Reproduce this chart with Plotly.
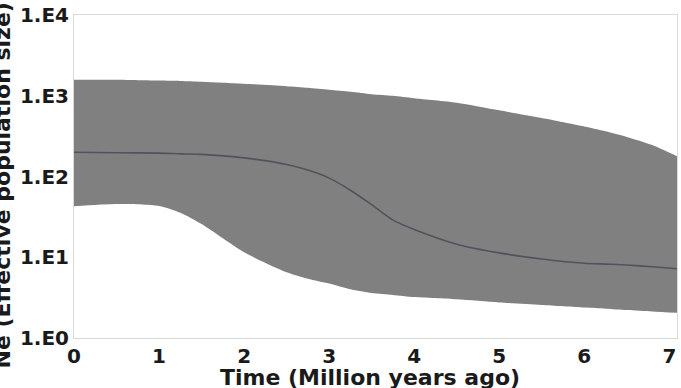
import plotly.graph_objects as go

# Time (million years ago)
time = [0, 0.5, 1.0, 1.25, 1.5, 2.0, 2.5, 2.75, 3.0, 3.25, 3.5, 3.75, 4.0, 4.5, 5.0, 5.5, 6.0, 6.25, 6.5, 6.8, 7.09]
# Upper 95% HPD of Ne
upper = [1585, 1585, 1549, 1531, 1496, 1413, 1318, 1259, 1189, 1122, 1047, 1000, 933, 822, 661, 531, 417, 363, 309, 245, 178]
# Median Ne
median = [200, 197, 195, 191, 188, 170, 141, 120, 95.5, 67.6, 44.7, 28.8, 22.1, 14.5, 11.3, 9.5, 8.4, 8.2, 8.0, 7.6, 7.2]
# Lower 95% HPD of Ne
lower = [42.7, 45.7, 43.2, 35.5, 25.7, 11.5, 6.5, 5.4, 4.7, 4.0, 3.6, 3.4, 3.2, 3.0, 2.75, 2.56, 2.38, 2.3, 2.21, 2.12, 2.04]

x_ticks = [0, 1, 2, 3, 4, 5, 6, 7]
y_tickvals = [1, 10, 100, 1000, 10000]
y_ticktext = ["1.E0", "1.E1", "1.E2", "1.E3", "1.E4"]

x_title = "Time (Million years ago)"
y_title = "Ne (Effective population size)"

FONT = "DejaVu Sans"
TXT = "#1a1a1a"
band_color = "#808080"
line_color = "#52525e"

fig = go.Figure()
fig.add_trace(go.Scatter(x=time, y=lower, mode="lines", line=dict(width=0, color=band_color, shape="spline", smoothing=0.7),
                         showlegend=False, hoverinfo="skip"))
fig.add_trace(go.Scatter(x=time, y=upper, mode="lines", line=dict(width=0, color=band_color, shape="spline", smoothing=0.7),
                         fill="tonexty", fillcolor=band_color, showlegend=False, hoverinfo="skip"))
fig.add_trace(go.Scatter(x=time, y=median, mode="lines", line=dict(width=1.6, color=line_color, shape="spline", smoothing=0.7),
                         showlegend=False))

W, H = 681, 388
ml, mr, mt, mb = 74, 3, 12, 50
pw, ph = W - ml - mr, H - mt - mb

fig.update_layout(
    width=W, height=H,
    margin=dict(l=ml, r=mr, t=mt, b=mb),
    paper_bgcolor="white", plot_bgcolor="white",
    font=dict(family=FONT, size=20, color=TXT),
    xaxis=dict(range=[0, 7.09], tickvals=x_ticks, ticktext=[str(v) for v in x_ticks],
               showgrid=False, zeroline=False, showline=True, mirror=True, linecolor="#d9d9d9", linewidth=1,
               ticks="", tickfont=dict(family=FONT, size=20, color=TXT, weight="bold")),
    yaxis=dict(type="log", range=[-0.002, 4.002], tickvals=y_tickvals, ticktext=y_ticktext,
               showgrid=False, zeroline=False, showline=True, mirror=True, linecolor="#d9d9d9", linewidth=1,
               ticks="", tickfont=dict(family=FONT, size=20, color=TXT, weight="bold")),
    annotations=[
        dict(text=x_title, xref="paper", yref="paper", x=(370 - ml) / pw, y=(H - mb - 378) / ph,
             xanchor="center", yanchor="middle", showarrow=False,
             font=dict(family=FONT, size=22, color=TXT, weight="bold")),
        dict(text=y_title, xref="paper", yref="paper", x=(2 - ml) / pw, y=(H - mb - 184) / ph,
             xanchor="center", yanchor="middle", showarrow=False, textangle=-90,
             font=dict(family=FONT, size=22, color=TXT, weight="bold")),
    ],
)

fig.write_html("out.html")
